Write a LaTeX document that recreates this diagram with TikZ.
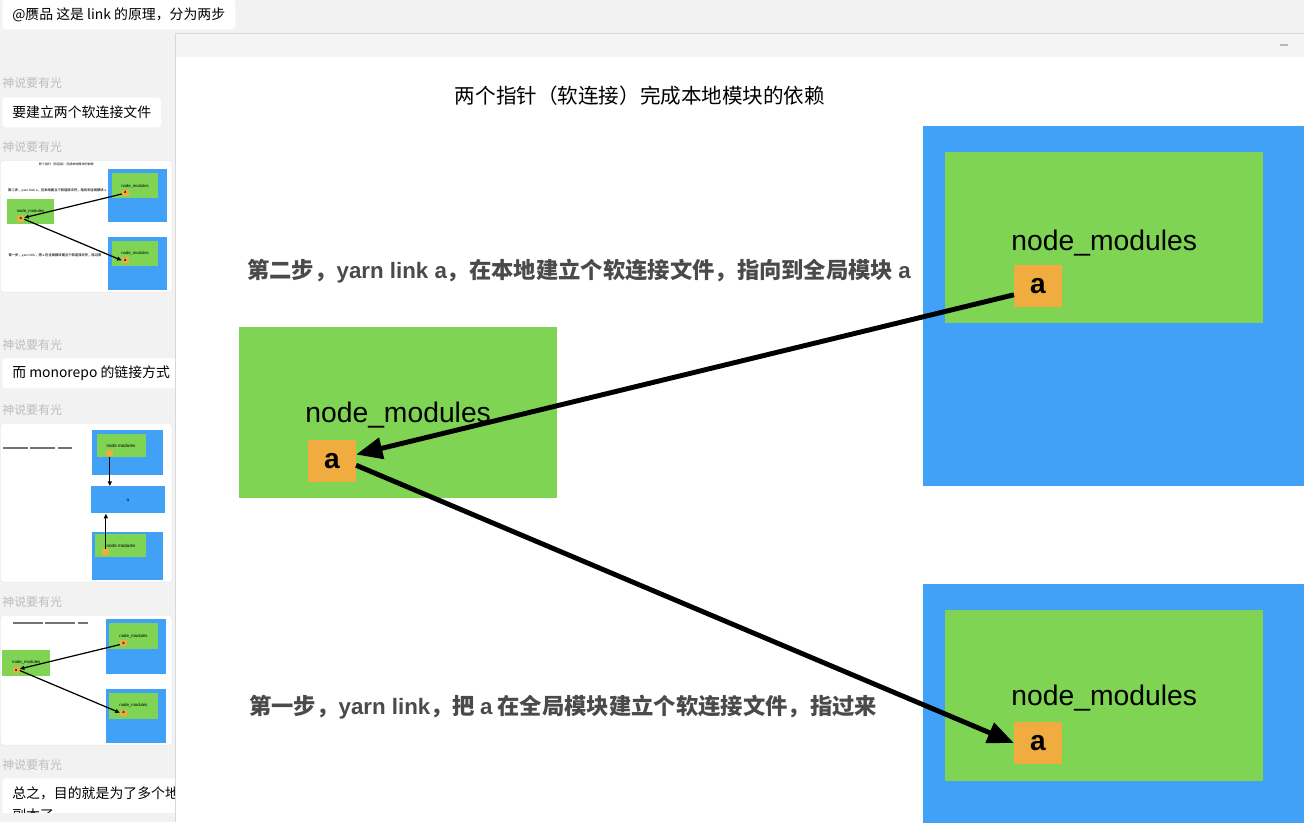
\documentclass[tikz,border=0pt]{standalone}
\usepackage{fontspec}
\setmainfont{Noto Sans CJK SC}
\newfontfamily\latinfont{Liberation Sans}
\usetikzlibrary{arrows.meta, positioning}
\definecolor{lnkblue}{HTML}{40A1F6}
\definecolor{lnkgreen}{HTML}{7FD454}
\definecolor{lnkorange}{HTML}{F0AC3F}
\definecolor{lnktext}{HTML}{4A4A4A}
\definecolor{chatbg}{HTML}{F2F2F2}
\definecolor{chatname}{HTML}{BDBDBD}
\definecolor{winbar}{HTML}{F4F4F4}
\definecolor{winline}{HTML}{D8D8D8}
\newcommand\fsz[1]{\fontsize{#1}{#1}\selectfont}
\tikzset{
  globalbox/.style={rectangle, fill=lnkblue, anchor=north west, inner sep=0pt,
    minimum width=7.94cm, minimum height=7.2cm},
  modsbox/.style={rectangle, fill=lnkgreen, anchor=north west, inner sep=0pt,
    minimum width=6.35cm, minimum height=3.42cm},
  pkgbox/.style={rectangle, fill=lnkorange, inner sep=0pt, minimum width=0.95cm,
    minimum height=0.83cm, font=\latinfont\bfseries\fsz{16}},
  modlabel/.style={anchor=base west, inner sep=0pt, font=\latinfont\fsz{16.1}},
  steptext/.style={anchor=west, inner sep=0pt, text=lnktext, font=\bfseries\fsz{12.7}},
  linkarrow/.style={-{Triangle[length=15pt,width=12pt]}, line width=2.8pt, black},
  thumbarrow/.style={-{Triangle[length=2.6pt,width=2.2pt]}, line width=0.7pt, black},
  chatname/.style={anchor=west, inner sep=0pt, text=chatname, font=\fsz{6.8}},
  bubble/.style={anchor=north west, fill=white, rounded corners=2pt, inner xsep=0.2cm,
    inner ysep=0pt, minimum height=0.6cm, align=left, font=\fontsize{7.9}{12.5}\selectfont},
  card/.style={anchor=north west, fill=white, draw=black!8, rounded corners=2pt,
    inner sep=0pt, minimum width=3.44cm},
  tinybox/.style={rectangle, inner sep=0pt, anchor=north west},
  tinylabel/.style={inner sep=0pt, font=\latinfont\fsz{2.6}},
}
% boxes and arrows of the link picture, in screen pixels
\newcommand\linkboxes[1]{%
  % global module a (top right)
  \node[globalbox] (#1gtop) at (923,126) {};
  \node[modsbox] (#1mtop) at (945,152) {};
  \node[modlabel] (#1ltop) at (1011,250) {node\_modules};
  \node[pkgbox] (#1atop) at (1038,286) {a};
  % local project
  \node[modsbox] (#1mloc) at (239,327) {};
  \node[modlabel] (#1lloc) at (305,422) {node\_modules};
  \node[pkgbox] (#1aloc) at (332,461) {a};
  % global module a (bottom right)
  \node[globalbox] (#1gbot) at (923,584) {};
  \node[modsbox] (#1mbot) at (945,610) {};
  \node[modlabel] (#1lbot) at (1011,705) {node\_modules};
  \node[pkgbox] (#1abot) at (1038,743) {a};
  \draw[linkarrow] (#1atop.200) -- (#1aloc.15);
  \draw[linkarrow] (#1aloc.-10) -- (#1abot.west);
}
\newcommand\linktexts[1]{%
  \node[inner sep=0pt, font=\fsz{11.7}] (#1title) at (640,96) {两个指针（软连接）完成本地模块的依赖};
  \node[steptext] (#1step2) at (247,271) {第二步，{\latinfont yarn link a}，在本地建立个软连接文件，指向到全局模块 {\latinfont a}};
  \node[steptext] (#1step1) at (249,707) {第一步，{\latinfont yarn link}，把 {\latinfont a} 在全局模块建立个软连接文件，指过来};
}

\begin{document}
\begin{tikzpicture}[x=0.02cm, y=-0.02cm]
  \useasboundingbox (0,0) rectangle (1304,822);
  \fill[chatbg] (0,0) rectangle (1304,822);

  % chat column
  \node[bubble] (msg1) at (2,-1) {@赝品 这是 link 的原理，分为两步};
  \node[chatname] (name1) at (2,83) {神说要有光};
  \node[bubble] (msg2) at (2,97) {要建立两个软连接文件};
  \node[chatname] (name2) at (2,147) {神说要有光};
  \node[card, minimum height=2.64cm] (card1) at (0,160) {};
  \begin{scope}
    \clip (0,160) rectangle (172,292);
    \begin{scope}[shift={(-28.4,150.4)}, scale=0.148, transform shape,
        linkarrow/.style={thumbarrow}]
      \linkboxes{t}
      \linktexts{t}
    \end{scope}
  \end{scope}
  \node[chatname] (name3) at (2,345) {神说要有光};
  \node[bubble] (msg3) at (2,358) {而 monorepo 的链接方式};
  \node[chatname] (name4) at (2,410) {神说要有光};

  % monorepo thumbnail
  \node[card, minimum height=3.18cm] (card2) at (0,423) {};
  \draw[black!55, line width=0.03cm, dash pattern=on 0.5cm off 0.05cm] (3,448) -- (72,448);
  \node[tinybox, fill=lnkblue, minimum width=1.42cm, minimum height=0.9cm] (mono1) at (92,430) {};
  \node[tinybox, fill=lnkgreen, minimum width=0.98cm, minimum height=0.46cm] (monog1) at (97,434) {};
  \node[tinylabel] (monol1) at (121,446) {node modules};
  \node[tinybox, fill=lnkorange, minimum width=0.14cm, minimum height=0.12cm] (monoa1) at (106,450) {};
  \node[tinybox, fill=lnkblue, minimum width=1.48cm, minimum height=0.54cm] (mono2) at (91,486) {};
  \node[tinylabel] (monoa) at (128,500) {a};
  \node[tinybox, fill=lnkblue, minimum width=1.42cm, minimum height=0.96cm] (mono3) at (92,532) {};
  \node[tinybox, fill=lnkgreen, minimum width=1.02cm, minimum height=0.46cm] (monog3) at (95,534) {};
  \node[tinylabel] (monol3) at (121,546) {node modules};
  \node[tinybox, fill=lnkorange, minimum width=0.14cm, minimum height=0.12cm] (monoa3) at (102,549) {};
  \draw[thumbarrow] (monoa1.south) -- (monoa1.south |- mono2.north);
  \draw[thumbarrow] (monoa3.north) -- (monoa3.north |- mono2.south);

  \node[chatname] (name5) at (2,602) {神说要有光};
  \node[card, minimum height=2.6cm] (card3) at (0,615) {};
  \begin{scope}
    \clip (0,615) rectangle (172,745);
    \draw[black!55, line width=0.03cm, dash pattern=on 0.6cm off 0.05cm] (13,623) -- (88,623);
    \begin{scope}[shift={(-34.3,599.8)}, scale=0.152, transform shape,
        linkarrow/.style={thumbarrow}]
      \linkboxes{u}
    \end{scope}
  \end{scope}
  \node[chatname] (name6) at (2,765) {神说要有光};
  \begin{scope}
    \clip (0,0) rectangle (175,812);
    \node[bubble, inner ysep=0.16cm] (msg4) at (2,778) {总之，目的就是为了多个地方\\副本了};
  \end{scope}

  % picture window
  \fill[white] (175,33) rectangle (1304,822);
  \fill[winbar] (175,33) rectangle (1304,57);
  \draw[winline] (175,33) -- (1304,33);
  \draw[winline] (175,33) -- (175,822);
  \draw[black!28, line width=0.05cm] (1280,45) -- (1288,45);
  \begin{scope}
    \clip (176,57) rectangle (1304,822);
    \linkboxes{}
    \linktexts{}
  \end{scope}
\end{tikzpicture}
\end{document}
